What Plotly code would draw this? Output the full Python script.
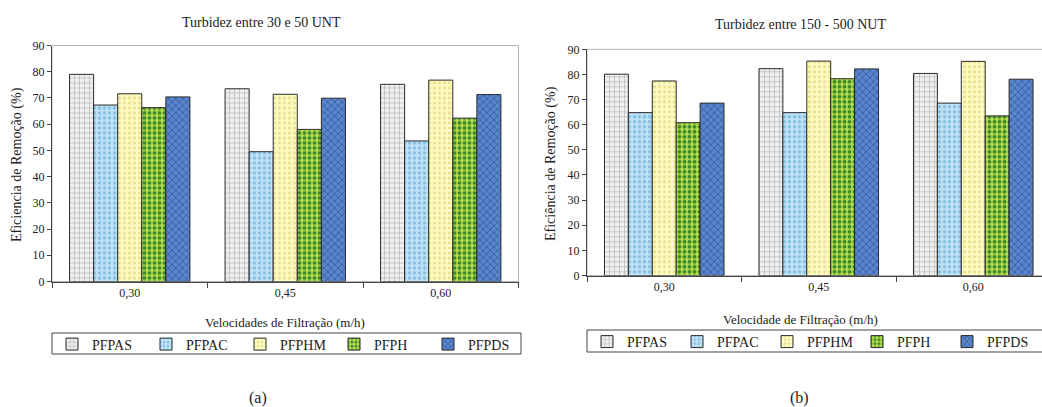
import plotly.graph_objects as go

# Filtration velocities (m/h) on the category axis
velocidades = ["0,30", "0,45", "0,60"]
series = ["PFPAS", "PFPAC", "PFPHM", "PFPH", "PFPDS"]

# Removal efficiency (%) for turbidity between 30 and 50 UNT
ef_a = {
    "PFPAS": [79.0, 73.5, 75.2],
    "PFPAC": [67.3, 49.5, 53.6],
    "PFPHM": [71.6, 71.4, 76.8],
    "PFPH":  [66.3, 58.0, 62.3],
    "PFPDS": [70.4, 69.9, 71.3],
}

# Removal efficiency (%) for turbidity between 150 and 500 NUT
ef_b = {
    "PFPAS": [80.1, 82.3, 80.4],
    "PFPAC": [64.8, 64.8, 68.6],
    "PFPHM": [77.4, 85.3, 85.2],
    "PFPH":  [60.8, 78.3, 63.5],
    "PFPDS": [68.6, 82.2, 78.1],
}

y_ticks = [0, 10, 20, 30, 40, 50, 60, 70, 80, 90]

# Fill style per series: background colour, pattern colour, pattern shape
styles = {
    "PFPAS": dict(bg="#efefef", fg="#a8a8a8", shape="+", solidity=0.2),
    "PFPAC": dict(bg="#bfe2f6", fg="#86bfe4", shape=".", solidity=0.35),
    "PFPHM": dict(bg="#fdfbbf", fg="#e6e08e", shape=".", solidity=0.3),
    "PFPH":  dict(bg="#b9de4c", fg="#3d8a2c", shape=".", solidity=0.45),
    "PFPDS": dict(bg="#5a86cc", fg="#36599f", shape="x", solidity=0.3),
}

FONT = "Liberation Serif, Tinos, DejaVu Serif, Times New Roman, serif"
TXT = "#222222"
W, H = 1042, 407

fig = go.Figure()

def add_group(data, xa, ya, legend):
    for name in series:
        st = styles[name]
        fig.add_trace(go.Bar(
            x=velocidades, y=data[name], name=name,
            xaxis=xa, yaxis=ya, legend=legend,
            marker=dict(
                color=st["bg"],
                line=dict(color="#2b2b2b", width=1),
                pattern=dict(shape=st["shape"], bgcolor=st["bg"], fgcolor=st["fg"],
                             size=5, solidity=st["solidity"], fillmode="replace"),
            ),
        ))

add_group(ef_a, "x", "y", "legend")
add_group(ef_b, "x2", "y2", "legend2")

def px_x(p):
    return p / W

def px_y(p):
    return 1 - p / H

def axis(**kw):
    base = dict(
        showgrid=False, zeroline=False, showline=True, linecolor="#444444", linewidth=1,
        ticks="outside", tickcolor="#444444", ticklen=5, automargin=False,
        tickfont=dict(family=FONT, size=12, color=TXT),
    )
    base.update(kw)
    return base

fig.update_layout(
    template="none",
    width=W, height=H, margin=dict(l=0, r=0, t=0, b=0, pad=0, autoexpand=False),
    paper_bgcolor="white", plot_bgcolor="white",
    barmode="group", bargap=0.226, bargroupgap=0,
    font=dict(family=FONT, color=TXT),
    xaxis=axis(domain=[px_x(52), px_x(518.5)], anchor="y", type="category",
               range=[-0.5, 2.5], tickson="boundaries"),
    yaxis=axis(domain=[px_y(281.5), px_y(45.5)], anchor="x", range=[0, 90],
               tickvals=y_ticks, ticklen=4),
    xaxis2=axis(domain=[px_x(587), 1.0], anchor="y2", type="category",
                range=[-0.5, 2.445], tickson="boundaries"),
    yaxis2=axis(domain=[px_y(275.5), px_y(49.3)], anchor="x2", range=[0, 90],
                tickvals=y_ticks, ticklen=4),
    legend=dict(orientation="h", x=px_x(52), xanchor="left", y=px_y(328.5), yanchor="top",
                borderwidth=0, bgcolor="rgba(0,0,0,0)", entrywidth=49,
                font=dict(family=FONT, size=14, color=TXT), traceorder="normal"),
    legend2=dict(orientation="h", x=px_x(587), xanchor="left", y=px_y(326), yanchor="top",
                 borderwidth=0, bgcolor="rgba(0,0,0,0)", entrywidth=45,
                 font=dict(family=FONT, size=14, color=TXT), traceorder="normal"),
)

# light frame around each plot area (top and right edges)
fig.add_shape(type="rect", xref="x domain", yref="y domain", x0=0, x1=1, y0=0, y1=1,
              line=dict(color="#b5b5b5", width=1), layer="below")
fig.add_shape(type="rect", xref="x2 domain", yref="y2 domain", x0=0, x1=1.05, y0=0, y1=1,
              line=dict(color="#b5b5b5", width=1), layer="below")

# legend boxes
fig.add_shape(type="rect", xref="paper", yref="paper",
              x0=px_x(52), x1=px_x(521), y0=px_y(354), y1=px_y(333),
              line=dict(color="#444444", width=1))
fig.add_shape(type="rect", xref="paper", yref="paper",
              x0=px_x(587), x1=px_x(1060), y0=px_y(352), y1=px_y(330),
              line=dict(color="#444444", width=1))

def label(text, x, y, size=13, angle=0):
    fig.add_annotation(text=text, x=px_x(x), y=px_y(y), xref="paper", yref="paper",
                       showarrow=False, textangle=angle,
                       font=dict(family=FONT, size=size, color=TXT),
                       xanchor="center", yanchor="middle")

label("Turbidez entre 30 e 50 UNT", 261, 23, size=14)
label("Turbidez entre 150 - 500 NUT", 800, 24, size=14)
label("Eficiencia de Remoção (%)", 17, 165, size=14, angle=-90)
label("Eficiência de Remoção (%)", 551, 164, size=14, angle=-90)
label("Velocidades de Filtração (m/h)", 285, 322, size=13)
label("Velocidade de Filtração (m/h)", 800, 319, size=13)
label("(a)", 258, 398, size=16)
label("(b)", 799, 398, size=16)

fig.write_html("out.html")
